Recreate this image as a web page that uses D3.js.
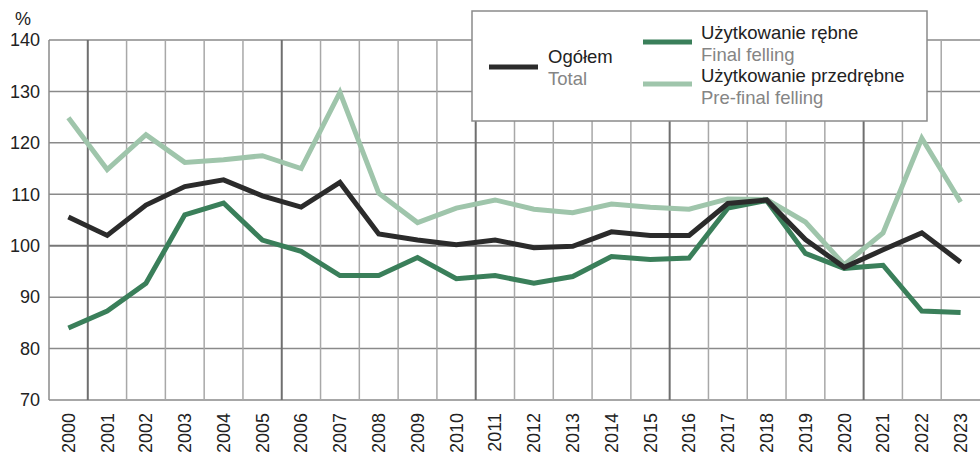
<!DOCTYPE html>
<html>
<head>
<meta charset="utf-8">
<script src="https://cdn.jsdelivr.net/npm/d3@7"></script>
<style>
	body { margin: 0; background: #fff; }
	text { font-family: "Liberation Sans", Arial, sans-serif; }
</style>
</head>
<body>
<div id="chart"></div>
<script>
/*
 * data
 */
const years = ["2000","2001","2002","2003","2004","2005","2006","2007","2008","2009","2010","2011",
	"2012","2013","2014","2015","2016","2017","2018","2019","2020","2021","2022","2023"];

const total = [105.6, 102.0, 107.9, 111.5, 112.8, 109.7, 107.5, 112.3, 102.3, 101.1, 100.2, 101.1,
	99.6, 99.9, 102.7, 102.0, 102.0, 108.2, 108.9, 101.2, 95.8, 99.2, 102.5, 96.8];

const finalFelling = [84.0, 87.3, 92.7, 106.0, 108.3, 101.1, 98.9, 94.2, 94.2, 97.7, 93.6, 94.2,
	92.7, 94.0, 97.9, 97.3, 97.6, 107.3, 108.8, 98.5, 95.6, 96.2, 87.3, 87.0];

const preFinal = [124.9, 114.8, 121.6, 116.2, 116.7, 117.5, 115.0, 129.8, 110.2, 104.5, 107.3, 108.9,
	107.1, 106.4, 108.1, 107.5, 107.1, 109.1, 109.0, 104.6, 96.3, 102.5, 120.9, 108.5];

const yTicks = [70, 80, 90, 100, 110, 120, 130, 140];

const series = [
	{ name: "Ogółem", sub: "Total", values: total, color: "#2b2b2b" },
	{ name: "Użytkowanie rębne", sub: "Final felling", values: finalFelling, color: "#3a7f5a" },
	{ name: "Użytkowanie przedrębne", sub: "Pre-final felling", values: preFinal, color: "#9fc5ab" }
];

const width = 980, height = 454;
const plotLeft = 49, plotRight = 980, plotTop = 40, plotBottom = 400;

const svg = d3.select("#chart").append("svg").attr("width", width).attr("height", height);

const xScale = d3.scaleBand().domain(years).range([plotLeft, plotRight]);
const yScale = d3.scaleLinear().domain([70, 140]).range([plotBottom, plotTop]);

/* horizontal grid */
svg.append("g").selectAll("line").data(yTicks).enter()
	.append("line")
	.attr("x1", plotLeft).attr("x2", plotRight)
	.attr("y1", d => yScale(d)).attr("y2", d => yScale(d))
	.attr("stroke", d => d == 100 ? "#777" : "#8a8a8a")
	.attr("stroke-width", d => d == 100 ? 2 : 1.5);

/* vertical grid at band edges, darker every 5 years */
svg.append("g").selectAll("line").data(years.slice(1)).enter()
	.append("line")
	.attr("x1", d => xScale(d)).attr("x2", d => xScale(d))
	.attr("y1", plotTop).attr("y2", plotBottom)
	.attr("stroke", (d, i) => i % 5 == 0 ? "#6f6f6f" : "#a8a8a8")
	.attr("stroke-width", (d, i) => i % 5 == 0 ? 2 : 1.5);

svg.append("line")
	.attr("x1", plotLeft).attr("x2", plotLeft).attr("y1", plotTop).attr("y2", plotBottom)
	.attr("stroke", "#8a8a8a").attr("stroke-width", 1.5);

/* y labels */
const yAxis = d3.axisLeft(yScale).tickValues(yTicks).tickSize(0).tickPadding(9);
const gy = svg.append("g").attr("transform", "translate(" + plotLeft + ",0)").call(yAxis);
gy.select(".domain").remove();
gy.selectAll("text").attr("font-size", 18).attr("fill", "#222")
	.attr("font-family", "Liberation Sans, Arial, sans-serif");

svg.append("text").attr("x", 15).attr("y", 25).attr("font-size", 18).attr("fill", "#222").text("%");

/* x labels, rotated */
const xAxis = d3.axisBottom(xScale).tickSize(0).tickPadding(0);
const gx = svg.append("g").attr("transform", "translate(0," + plotBottom + ")").call(xAxis);
gx.select(".domain").remove();
gx.selectAll("text")
	.attr("font-size", 18).attr("fill", "#222")
	.attr("font-family", "Liberation Sans, Arial, sans-serif")
	.attr("transform", "rotate(-90)")
	.attr("text-anchor", "end")
	.attr("x", -13).attr("y", 0).attr("dy", "0.35em");

/* lines */
const line = d3.line()
	.x((d, i) => xScale(years[i]) + xScale.bandwidth() / 2)
	.y(d => yScale(d));

const drawOrder = [series[2], series[1], series[0]];
svg.append("g").selectAll("path").data(drawOrder).enter()
	.append("path")
	.attr("d", d => line(d.values))
	.attr("fill", "none")
	.attr("stroke", d => d.color)
	.attr("stroke-width", 5);

/* legend */
const legend = svg.append("g");
legend.append("rect")
	.attr("x", 472).attr("y", 11).attr("width", 455).attr("height", 110)
	.attr("fill", "#fff").attr("stroke", "#8a8a8a").attr("stroke-width", 1.5);

const legendPos = [
	{ lx: 489, ly: 67, tx: 548, ty: 63 },
	{ lx: 643, ly: 42, tx: 701, ty: 39 },
	{ lx: 643, ly: 84, tx: 701, ty: 82 }
];

series.forEach(function (s, i) {
	const p = legendPos[i];
	legend.append("line")
		.attr("x1", p.lx).attr("x2", p.lx + 49)
		.attr("y1", p.ly).attr("y2", p.ly)
		.attr("stroke", s.color).attr("stroke-width", 5);
	legend.append("text").attr("x", p.tx).attr("y", p.ty)
		.attr("font-size", 18.5).attr("fill", "#222").text(s.name);
	legend.append("text").attr("x", p.tx).attr("y", p.ty + 21.5)
		.attr("font-size", 18.5).attr("fill", "#858585").text(s.sub);
});
</script>
</body>
</html>
